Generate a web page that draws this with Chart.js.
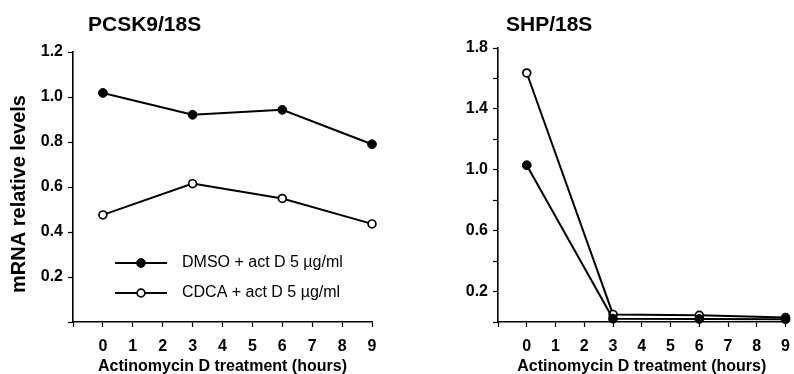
<!DOCTYPE html>
<html>
<head>
<meta charset="utf-8">
<script src="https://cdn.jsdelivr.net/npm/chart.js@4/dist/chart.umd.min.js"></script>
<style>
html,body{margin:0;padding:0;background:#fff;overflow:hidden}
body{width:794px;height:374px;position:relative}
.panel{position:absolute;top:0;width:400px;height:374px}
#leftPanel{left:0}
#rightPanel{left:400px}
</style>
</head>
<body>
<div class="panel" id="leftPanel"><canvas id="pcsk9Chart" width="400" height="374"></canvas></div>
<div class="panel" id="rightPanel"><canvas id="shpChart" width="400" height="374"></canvas></div>
<script>
const hours=[0,3,6,9]
const seriesLabels=["DMSO + act D 5 µg/ml","CDCA + act D 5 µg/ml"]

const pcsk9Dmso=[1.018,0.921,0.943,0.79]
const pcsk9Cdca=[0.476,0.615,0.549,0.436]

const shpDmso=[1.03,0.022,0.02,0.018]
const shpCdca=[1.636,0.05,0.044,0.029]

const pcsk9Labels=[0.2,0.4,0.6,0.8,1.0,1.2]
const shpLabels=[0.2,0.6,1.0,1.4,1.8]

const FONT="'Liberation Sans', Arial, sans-serif"
Chart.defaults.font.family=FONT
Chart.defaults.color="#000"

const toPoints=(vals)=>hours.map((h,i)=>({x:h,y:vals[i]}))

function makeSets(dmso,cdca){
return [
{label:seriesLabels[0],data:toPoints(dmso),borderColor:"#000",backgroundColor:"#000",
borderWidth:2,pointRadius:4.4,pointBorderWidth:1,pointBorderColor:"#000",pointBackgroundColor:"#000",clip:false},
{label:seriesLabels[1],data:toPoints(cdca),borderColor:"#000",backgroundColor:"#fff",
borderWidth:2,pointRadius:3.9,pointBorderWidth:1.7,pointBorderColor:"#000",pointBackgroundColor:"#fff",clip:false}
]
}

// panel heading + optional rotated y title
const panelTitle={
id:"panelTitle",
afterDraw(chart,args,opts){
const ctx=chart.ctx
ctx.save()
ctx.font="bold 21px "+FONT
ctx.fillStyle="#000"
ctx.textBaseline="middle"
ctx.fillText(opts.text,chart.chartArea.left+opts.dx,opts.y)
if(opts.yTitle){
ctx.translate(opts.yTitle.x,opts.yTitle.y)
ctx.rotate(-Math.PI/2)
ctx.textAlign="center"
ctx.font="bold 20px "+FONT
ctx.fillText(opts.yTitle.text,0,0)
}
ctx.restore()
}
}

const lineLegend={
id:"lineLegend",
afterDraw(chart,args,opts){
if(!opts.show) return
const ctx=chart.ctx
ctx.save()
chart.data.datasets.forEach((ds,i)=>{
const y=opts.rows[i]
ctx.strokeStyle=ds.borderColor
ctx.lineWidth=ds.borderWidth
ctx.beginPath()
ctx.moveTo(opts.x0,y)
ctx.lineTo(opts.x1,y)
ctx.stroke()
ctx.beginPath()
ctx.arc((opts.x0+opts.x1)/2,y,ds.pointRadius,0,Math.PI*2)
ctx.fillStyle=ds.pointBackgroundColor
ctx.fill()
ctx.lineWidth=ds.pointBorderWidth
ctx.stroke()
ctx.fillStyle="#000"
ctx.font="16px "+FONT
ctx.textBaseline="middle"
ctx.fillText(ds.label,opts.textX,y)
})
ctx.restore()
}
}

function makeChart(id,dmso,cdca,cfg){
return new Chart(document.getElementById(id),{
type:"line",
data:{datasets:makeSets(dmso,cdca)},
plugins:[panelTitle,lineLegend],
options:{
responsive:false,
animation:false,
layout:{padding:{top:cfg.top,right:cfg.right,left:0,bottom:0}},
plugins:{
legend:{display:false},
tooltip:{enabled:false},
panelTitle:{text:cfg.title,dx:cfg.titleDx,y:25.5,yTitle:cfg.yTitle},
lineLegend:cfg.legend
},
scales:{
x:{
type:"linear",min:-1,max:9,
afterFit:(s)=>{s.height=52},
border:{display:true,color:"#000",width:1.6},
grid:{drawOnChartArea:false,drawTicks:true,tickLength:5,tickColor:"#000",tickWidth:1.2},
ticks:{stepSize:1,padding:10,font:{size:16,weight:"bold"},
callback:(v)=>v<0?"":String(v)},
title:{display:true,text:"Actinomycin D treatment (hours)",font:{size:16,weight:"bold"},padding:{top:0,bottom:-2}}
},
y:{
type:"linear",min:0,max:cfg.ymax,
afterFit:(s)=>{s.width=cfg.yWidth},
border:{display:true,color:"#000",width:1.6},
grid:{drawOnChartArea:false,drawTicks:true,tickLength:5,tickColor:"#000",tickWidth:1.2},
ticks:{stepSize:0.2,padding:5,font:{size:16,weight:"bold"},
callback:(v)=>cfg.labels.some(l=>Math.abs(l-v)<1e-6)?v.toFixed(1):""}
}
}
}
})
}

makeChart("pcsk9Chart",pcsk9Dmso,pcsk9Cdca,{
title:"PCSK9/18S",titleDx:15,top:52,right:28,ymax:1.2,yWidth:73,labels:pcsk9Labels,
yTitle:{text:"mRNA relative levels",x:19,y:194},
legend:{show:true,x0:115,x1:167,textX:182,rows:[263,293]}
})

makeChart("shpChart",shpDmso,shpCdca,{
title:"SHP/18S",titleDx:8,top:48,right:10,ymax:1.8,yWidth:98,yTitle:null,labels:shpLabels,
legend:{show:false}
})
</script>
</body>
</html>
